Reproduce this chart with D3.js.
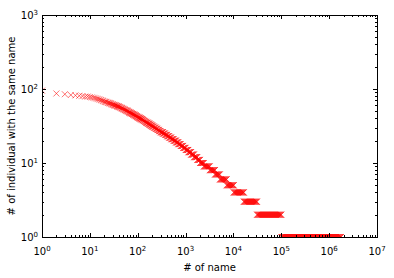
<!DOCTYPE html>
<html>
<meta charset="utf-8">
<script src="https://d3js.org/d3.v7.min.js"></script>
<style>
  body { margin: 0; background: #fff; }
  svg { display: block; }
  text { font-family: "DejaVu Sans", sans-serif; fill: #000; }
</style>
<body>
<div id="chart"></div>
<script>
// how many people share a name, and the last rank (sorted by that count) where it occurs
var nameCount = [95, 87, 85, 83, 82, 81, 80, 79, 78, 77, 76, 75, 74, 73, 72, 71, 70, 69, 68,
  67, 66, 65, 64, 63, 62, 61, 60, 59, 58, 57, 56, 55, 54, 53, 52, 51, 50, 49, 48,
  47, 46, 45, 44, 43, 42, 41, 40, 39, 38, 37, 36, 35, 34, 33, 32, 31, 30, 29, 28, 27,
  26, 25, 24, 23, 22, 21, 20, 19, 18, 17, 16, 15, 14, 13, 12, 11, 10, 9, 8, 7, 6, 5, 4, 3, 2, 1];
var lastRank = [1, 2, 3, 4, 5, 6, 7, 9, 10, 11, 12, 13, 14, 15, 16, 17, 18, 19, 20,
  22, 23, 25, 27, 28, 30, 32, 35, 37, 40, 42, 45, 47, 50, 53, 56, 60, 63, 66, 70,
  75, 80, 85, 90, 95, 100, 108, 116, 124, 132, 141, 150, 162, 174, 187, 200, 218, 237, 257, 278, 300,
  335, 372, 410, 453, 500, 562, 628, 700, 790, 890, 1000, 1140, 1300, 1500, 1750, 2000, 2400, 3200,
  4100, 5200, 7200, 10100, 16400, 31000, 100000, 1770000];

var xDecades = [0, 1, 2, 3, 4, 5, 6, 7];
var yDecades = [0, 1, 2, 3];

var W = 394, H = 278;
var padL = 42, padR = 377, padT = 15, padB = 237;

var svg = d3.select("#chart").append("svg").attr("width", W).attr("height", H);

var x = d3.scaleLog().domain([1, 1e7]).range([padL, padR]);
var y = d3.scaleLog().domain([1, 1e3]).range([padB, padT]);

// every rank gets a point, but only keep one per half pixel (the rest overlap anyway)
var points = [];
var prev = 0;
nameCount.forEach(function (c, i) {
  var lastPx = -1;
  for (var r = prev + 1; r <= lastRank[i]; r++) {
    var px = x(r);
    if (px - lastPx >= 0.5 || r === lastRank[i]) {
      points.push({ r: r, c: c });
      lastPx = px;
    }
  }
  prev = lastRank[i];
});

svg.append("clipPath").attr("id", "plotArea")
  .append("rect")
  .attr("x", padL).attr("y", padT)
  .attr("width", padR - padL).attr("height", padB - padT);

svg.append("g")
  .attr("clip-path", "url(#plotArea)")
  .selectAll("path")
  .data(points)
  .enter()
  .append("path")
  .attr("transform", function (d) { return "translate(" + x(d.r) + "," + y(d.c) + ")"; })
  .attr("d", "M-3,-3L3,3M-3,3L3,-3")
  .attr("fill", "none")
  .attr("stroke", "red")
  .attr("stroke-opacity", 0.55)
  .attr("stroke-width", 1);

// ticks on all four sides, pointing in
var ticks = svg.append("g").attr("stroke", "#000").attr("stroke-width", 1)
  .attr("shape-rendering", "crispEdges");

function minorOf(decades) {
  var out = [];
  decades.slice(0, -1).forEach(function (d) {
    for (var k = 2; k <= 9; k++) out.push(k * Math.pow(10, d));
  });
  return out;
}

var xMajor = xDecades.map(function (d) { return Math.pow(10, d); });
var yMajor = yDecades.map(function (d) { return Math.pow(10, d); });

function xTicks(vals, len) {
  vals.forEach(function (v) {
    var px = Math.round(x(v)) + 0.5;
    ticks.append("line").attr("x1", px).attr("x2", px).attr("y1", padB).attr("y2", padB - len);
    ticks.append("line").attr("x1", px).attr("x2", px).attr("y1", padT).attr("y2", padT + len);
  });
}
function yTicks(vals, len) {
  vals.forEach(function (v) {
    var py = Math.round(y(v)) + 0.5;
    ticks.append("line").attr("y1", py).attr("y2", py).attr("x1", padL).attr("x2", padL + len);
    ticks.append("line").attr("y1", py).attr("y2", py).attr("x1", padR).attr("x2", padR - len);
  });
}
xTicks(xMajor, 4);
xTicks(minorOf(xDecades), 2);
yTicks(yMajor, 4);
yTicks(minorOf(yDecades), 2);

svg.append("rect")
  .attr("x", padL + 0.5).attr("y", padT + 0.5)
  .attr("width", padR - padL).attr("height", padB - padT)
  .attr("fill", "none").attr("stroke", "#000").attr("stroke-width", 1)
  .attr("shape-rendering", "crispEdges");

// tick labels like 10^3
function powLabel(sel, d) {
  sel.append("tspan").text("10");
  sel.append("tspan").attr("dy", -4).style("font-size", "7px").text(d);
}

xDecades.forEach(function (d) {
  var t = svg.append("text")
    .attr("x", x(Math.pow(10, d)))
    .attr("y", padB + 18)
    .attr("text-anchor", "middle")
    .style("font-size", "10px");
  powLabel(t, d);
});

yDecades.forEach(function (d) {
  var t = svg.append("text")
    .attr("x", padL - 4)
    .attr("y", y(Math.pow(10, d)) + 4)
    .attr("text-anchor", "end")
    .style("font-size", "10px");
  powLabel(t, d);
});

svg.append("text")
  .attr("x", (padL + padR) / 2)
  .attr("y", 271)
  .attr("text-anchor", "middle")
  .style("font-size", "10px")
  .text("# of name");

svg.append("text")
  .attr("transform", "translate(15," + (padT + padB) / 2 + ") rotate(-90)")
  .attr("text-anchor", "middle")
  .style("font-size", "10px")
  .text("# of individual with the same name");
</script>
</body>
</html>
